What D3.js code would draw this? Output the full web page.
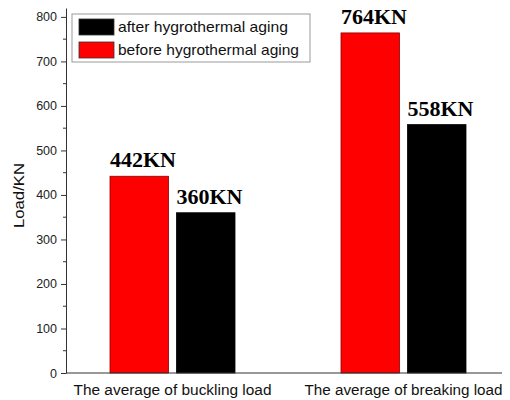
<!DOCTYPE html>
<html>
<head>
<meta charset="utf-8">
<script src="https://cdn.jsdelivr.net/npm/d3@7"></script>
<style>
  body { margin: 0; background: #fff; }
  text { font-family: "Liberation Sans", Arial, sans-serif; }
</style>
</head>
<body>
<div id="chart"></div>
<script>
(function(){
	var categories = ["The average of buckling load", "The average of breaking load"];
	var series = ["before", "after"];
	var beforeValues = [442, 764];
	var afterValues = [360, 558];
	var valueLabels = [["442KN", "360KN"], ["764KN", "558KN"]];
	var legendLabels = ["after hygrothermal aging", "before hygrothermal aging"];
	var yTicks = [0, 100, 200, 300, 400, 500, 600, 700, 800];

	var width = 510, height = 400;
	var plot = { left: 66, right: 502, top: 8, bottom: 373 };

	var svg = d3.select("#chart")
		.append("svg")
		.attr("width", width)
		.attr("height", height);

	var y = d3.scaleLinear()
		.domain([0, 820])
		.range([plot.bottom, plot.top]);

	var x0 = d3.scaleBand()
		.domain(categories)
		.range([57, 519]);

	var x1 = d3.scaleBand()
		.domain(series)
		.range([53, 178])
		.paddingInner(0.12);

	var colors = { before: "#ff0000", after: "#000000" };
	var strokes = { before: "#8b0000", after: "#000000" };

	var rows = categories.map(function(c, i){
		return { cat: c, vals: [
			{ key: "before", v: beforeValues[i], label: valueLabels[i][0] },
			{ key: "after", v: afterValues[i], label: valueLabels[i][1] }
		]};
	});

	var groups = svg.selectAll("g.cat")
		.data(rows)
		.enter().append("g")
		.attr("class", "cat")
		.attr("transform", function(d){ return "translate(" + x0(d.cat) + ",0)"; });

	groups.selectAll("rect")
		.data(function(d){ return d.vals; })
		.enter().append("rect")
		.attr("x", function(d){ return x1(d.key); })
		.attr("y", function(d){ return y(d.v); })
		.attr("width", x1.bandwidth())
		.attr("height", function(d){ return y(0) - y(d.v); })
		.style("fill", function(d){ return colors[d.key]; })
		.style("stroke", function(d){ return strokes[d.key]; })
		.style("stroke-width", 0.8);

	groups.selectAll("text.val")
		.data(function(d){ return d.vals; })
		.enter().append("text")
		.attr("class", "val")
		.attr("x", function(d){ return x1(d.key); })
		.attr("y", function(d){ return y(d.v) - 9; })
		.style("font-family", "'Liberation Serif', 'Times New Roman', serif")
		.style("font-weight", "bold")
		.style("font-size", "22px")
		.text(function(d){ return d.label; });

	// y axis with minor ticks
	var yAxis = d3.axisLeft(y)
		.tickValues(yTicks)
		.tickSize(5)
		.tickSizeOuter(0);

	var gy = svg.append("g")
		.attr("transform", "translate(" + plot.left + ",0)")
		.call(yAxis);
	gy.select(".domain").attr("stroke", "#333");
	gy.selectAll(".tick line").attr("stroke", "#333");
	gy.selectAll(".tick text")
		.style("font-size", "12.5px")
		.attr("fill", "#222")
		.attr("x", -9);

	svg.append("g")
		.attr("transform", "translate(" + plot.left + ",0)")
		.selectAll("line")
		.data(d3.range(50, 820, 100))
		.enter().append("line")
		.attr("x1", -3).attr("x2", 0)
		.attr("y1", function(d){ return y(d); })
		.attr("y2", function(d){ return y(d); })
		.attr("stroke", "#333");

	// x axis line
	svg.append("line")
		.attr("x1", plot.left).attr("x2", plot.right)
		.attr("y1", plot.bottom).attr("y2", plot.bottom)
		.attr("stroke", "#333");

	svg.selectAll("text.cat")
		.data(categories)
		.enter().append("text")
		.attr("class", "cat")
		.attr("x", function(d){ return x0(d) + x0.bandwidth() / 2 - 99; })
		.attr("y", 395)
		.attr("textLength", 198)
		.attr("lengthAdjust", "spacingAndGlyphs")
		.style("font-size", "15.5px")
		.attr("fill", "#111")
		.text(function(d){ return d; });

	svg.append("text")
		.attr("transform", "translate(24,196) rotate(-90)")
		.attr("x", -32)
		.attr("textLength", 65)
		.attr("lengthAdjust", "spacingAndGlyphs")
		.style("font-size", "14.5px")
		.attr("fill", "#111")
		.text("Load/KN");

	// legend
	var legend = svg.append("g").attr("transform", "translate(72,14)");
	legend.append("rect")
		.attr("width", 238).attr("height", 48)
		.attr("fill", "#fff")
		.attr("stroke", "#999");
	var legendKeys = ["after", "before"];
	var legendWidths = [170, 181];
	var items = legend.selectAll("g.item")
		.data(legendKeys)
		.enter().append("g")
		.attr("class", "item")
		.attr("transform", function(d, i){ return "translate(7," + (5 + i * 23) + ")"; });
	items.append("rect")
		.attr("width", 35).attr("height", 16)
		.style("fill", function(d){ return colors[d]; })
		.style("stroke", "#333")
		.style("stroke-width", 0.8);
	items.append("text")
		.attr("x", 39).attr("y", 13)
		.attr("textLength", function(d, i){ return legendWidths[i]; })
		.attr("lengthAdjust", "spacingAndGlyphs")
		.style("font-size", "14.5px")
		.attr("fill", "#111")
		.text(function(d, i){ return legendLabels[i]; });
})();
</script>
</body>
</html>
